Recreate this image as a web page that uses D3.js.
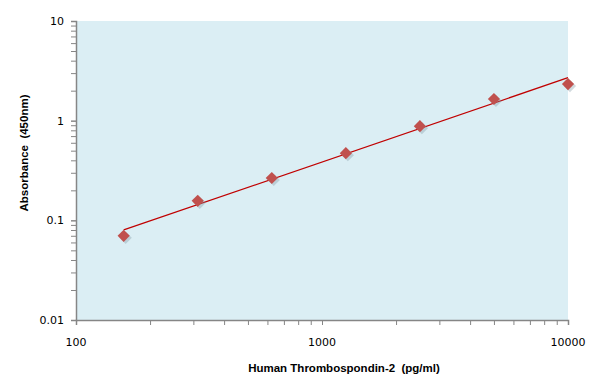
<!DOCTYPE html>
<html>
<head>
<meta charset="utf-8">
<script src="https://cdn.jsdelivr.net/npm/d3@7"></script>
<style>
  body { margin: 0; background: #fff; }
  text { white-space: pre; }
</style>
</head>
<body>
<div id="chart"></div>
<script>
// standard curve data
const concentrations = [156.25, 312.5, 625, 1250, 2500, 5000, 10000];
const absorbance = [0.070, 0.157, 0.266, 0.472, 0.880, 1.65, 2.33];
const xTicks = [100, 1000, 10000];
const yTicks = [0.01, 0.1, 1, 10];

const width = 596;
const height = 390;
const margin = { top: 21, right: 28, bottom: 70, left: 76 };

const svg = d3.select("#chart")
    .append("svg")
    .attr("width", width)
    .attr("height", height);

const x = d3.scaleLog()
    .domain([100, 10000])
    .range([margin.left, width - margin.right]);

const y = d3.scaleLog()
    .domain([0.01, 10])
    .range([height - margin.bottom, margin.top]);

// plot area background
svg.append("rect")
    .attr("x", margin.left)
    .attr("y", margin.top)
    .attr("width", width - margin.left - margin.right)
    .attr("height", height - margin.top - margin.bottom)
    .attr("fill", "#dbeef4");

// minor ticks
const minor = (lo, hi) => {
    const out = [];
    for (let p = lo; p < hi; p *= 10) {
        for (let k = 1; k <= 10; k++) out.push(p * k);
    }
    return out;
};

const xAxis = svg.append("g")
    .attr("transform", `translate(0,${height - margin.bottom})`)
    .call(d3.axisBottom(x).tickValues(minor(100, 10000)).tickSize(5).tickFormat(""));
xAxis.select(".domain").attr("stroke", "#868686").attr("stroke-width", 1.5);
xAxis.selectAll(".tick line").attr("stroke", "#868686");

const yAxis = svg.append("g")
    .attr("transform", `translate(${margin.left},0)`)
    .call(d3.axisLeft(y).tickValues(minor(0.01, 10)).tickSize(5).tickFormat(""));
yAxis.select(".domain").attr("stroke", "#868686").attr("stroke-width", 1.5);
yAxis.selectAll(".tick line").attr("stroke", "#868686");

// tick labels
svg.selectAll(".xlab")
    .data(xTicks)
    .enter().append("text")
    .attr("class", "xlab")
    .attr("x", d => x(d))
    .attr("y", height - margin.bottom + 26)
    .attr("text-anchor", "middle")
    .style("font-family", "DejaVu Sans, sans-serif")
    .style("font-size", "11px")
    .text(d => d);

svg.selectAll(".ylab")
    .data(yTicks)
    .enter().append("text")
    .attr("class", "ylab")
    .attr("x", margin.left - 12)
    .attr("y", d => y(d) + 4)
    .attr("text-anchor", "end")
    .style("font-family", "DejaVu Sans, sans-serif")
    .style("font-size", "11px")
    .text(d => d);

// power fit (log-log regression)
const lx = concentrations.map(Math.log10);
const ly = absorbance.map(Math.log10);
const mx = d3.mean(lx), my = d3.mean(ly);
const slope = d3.sum(lx, (d, i) => (d - mx) * (ly[i] - my)) / d3.sum(lx, d => (d - mx) ** 2);
const fit = c => Math.pow(10, my + slope * (Math.log10(c) - mx));

const fitPts = [concentrations[0], concentrations[concentrations.length - 1]];
svg.append("path")
    .datum(fitPts)
    .attr("fill", "none")
    .attr("stroke", "#c00000")
    .attr("stroke-width", 1.3)
    .attr("d", d3.line().x(d => x(d)).y(d => y(fit(d))));

// shadows + markers
const diamond = d3.symbol().type(d3.symbolDiamond2).size(95);
svg.selectAll(".shadow")
    .data(concentrations)
    .enter().append("path")
    .attr("class", "shadow")
    .attr("d", diamond)
    .attr("transform", (d, i) => `translate(${x(d) + 2},${y(absorbance[i]) + 2})`)
    .attr("fill", "#7f96a0")
    .attr("opacity", 0.35);

svg.selectAll(".pt")
    .data(concentrations)
    .enter().append("path")
    .attr("class", "pt")
    .attr("d", diamond)
    .attr("transform", (d, i) => `translate(${x(d)},${y(absorbance[i])})`)
    .attr("fill", "#c0504d");

// axis titles
svg.append("text")
    .attr("x", 344)
    .attr("y", 372)
    .attr("text-anchor", "middle")
    .style("font-family", "Liberation Sans, Arial, sans-serif")
    .style("font-weight", "bold")
    .style("font-size", "11.5px")
    .text("Human Thrombospondin-2  (pg/ml)");

svg.append("text")
    .attr("transform", "translate(28,153) rotate(-90)")
    .attr("text-anchor", "middle")
    .style("font-family", "Liberation Sans, Arial, sans-serif")
    .style("font-weight", "bold")
    .style("font-size", "11.5px")
    .text("Absorbance  (450nm)");
</script>
</body>
</html>
